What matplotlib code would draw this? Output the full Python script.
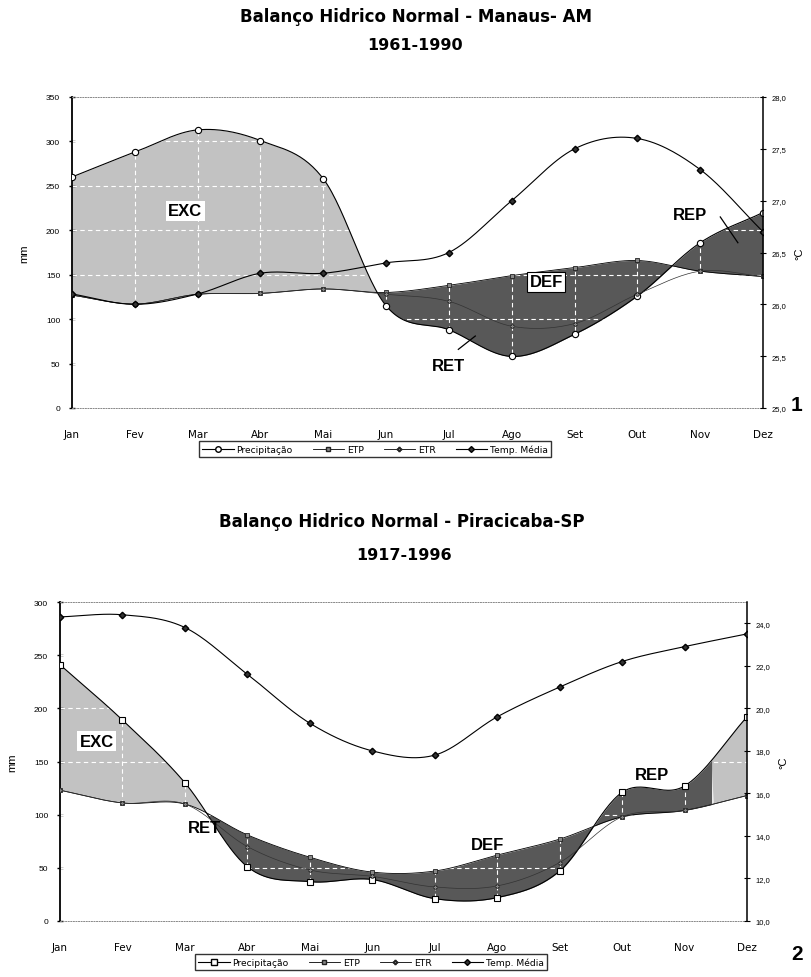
import numpy as np
import matplotlib
matplotlib.use('Agg')
import matplotlib.pyplot as plt
from matplotlib.lines import Line2D

plt.rcParams['font.family'] = ['Liberation Sans', 'DejaVu Sans']

months = ['Jan', 'Fev', 'Mar', 'Abr', 'Mai', 'Jun', 'Jul', 'Ago', 'Set', 'Out', 'Nov', 'Dez']

# Manaus - AM (1961-1990)
man_prec = [260, 288, 313, 301, 258, 115, 88, 58, 83, 126, 186, 220]
man_etp = [127, 117, 128, 129, 134, 130, 138, 149, 158, 166, 154, 148]
man_etr = [127, 117, 128, 129, 134, 128, 120, 92, 95, 128, 154, 148]
man_temp = [26.1, 26.0, 26.1, 26.3, 26.3, 26.4, 26.5, 27.0, 27.5, 27.6, 27.3, 26.7]
man_rep = (9.0, 11.0)

# Piracicaba - SP (1917-1996)
pir_prec = [241, 189, 130, 51, 37, 39, 21, 22, 47, 121, 127, 192]
pir_etp = [123, 111, 110, 81, 60, 46, 47, 62, 77, 98, 104, 118]
pir_etr = [123, 111, 110, 70, 48, 42, 32, 33, 55, 98, 104, 118]
pir_temp = [24.3, 24.4, 23.8, 21.6, 19.3, 18.0, 17.8, 19.6, 21.0, 22.2, 22.9, 23.5]
pir_rep = (8.0, 10.45)

LIGHT = '#c2c2c2'
DARK = '#585858'
WIDE = ['DejaVu Sans']


def smooth(y, n=30):
    y = np.asarray(y, float)
    yp = np.concatenate([[2 * y[0] - y[1]], y, [2 * y[-1] - y[-2]]])
    xs, ys = [], []
    t = np.linspace(0, 1, n, endpoint=False)
    for i in range(len(y) - 1):
        p0, p1, p2, p3 = yp[i:i + 4]
        ys.append(0.5 * ((2 * p1) + (-p0 + p2) * t + (2 * p0 - 5 * p1 + 4 * p2 - p3) * t ** 2
                         + (-p0 + 3 * p1 - 3 * p2 + p3) * t ** 3))
        xs.append(i + t)
    xs.append([len(y) - 1])
    ys.append([y[-1]])
    return np.concatenate(xs), np.concatenate(ys)


def fmt_c(v):
    return ('%.1f' % v).replace('.', ',')


def draw(ax, prec, etp, etr, temp, ymax, tlim, tticks, rep, prec_marker):
    x = np.arange(12)
    xd, pd = smooth(prec)
    _, ed = smooth(etp)
    _, rd = smooth(etr)
    in_rep = (xd >= rep[0]) & (xd <= rep[1])
    ax.fill_between(xd, pd, ed, where=(pd >= ed) & ~in_rep, interpolate=True,
                    color=LIGHT, lw=0, zorder=1)
    ax.fill_between(xd, pd, ed, where=(pd >= ed) & in_rep, interpolate=True,
                    color=DARK, lw=0, zorder=1)
    ax.fill_between(xd, pd, ed, where=(pd < ed), interpolate=True,
                    color=DARK, lw=0, zorder=1)
    for yv in range(50, ymax, 50):
        ax.axhline(yv, color='white', ls=(0, (4, 3)), lw=0.8, zorder=2)
    for xv in range(1, 11):
        ax.axvline(xv, color='white', ls=(0, (4, 3)), lw=0.8, zorder=2)

    ax.plot(xd, pd, color='black', lw=0.8, zorder=3)
    ax.plot(xd, ed, color='black', lw=0.6, zorder=3)
    ax.plot(xd, rd, color='#333333', lw=0.5, zorder=3)
    ax.plot(x, prec, ls='none', marker=prec_marker, ms=4.5, mfc='white', mec='black', mew=0.8, zorder=4)
    ax.plot(x, etp, ls='none', marker='s', ms=3.2, mfc='#888888', mec='#222222', mew=0.6, zorder=4)
    ax.plot(x, etr, ls='none', marker='P', ms=3.2, mfc='#888888', mec='#222222', mew=0.4, zorder=4)

    ax.set_xlim(0, 11)
    ax.set_ylim(0, ymax)
    ax.set_yticks(range(0, ymax + 1, 50))
    ax.set_xticks(x)
    ax.set_xticklabels(months, fontsize=7.5, family=WIDE)
    ax.tick_params(axis='x', length=0, pad=15)
    ax.tick_params(axis='y', direction='inout', length=5, width=1, labelsize=6, pad=6)
    ax.set_ylabel('mm', fontsize=8, labelpad=12)
    for s in ('top', 'bottom'):
        ax.spines[s].set_linestyle(':')
        ax.spines[s].set_color('#888888')
        ax.spines[s].set_linewidth(0.7)
    ax.spines['left'].set_linewidth(1.3)
    ax.spines['right'].set_visible(False)

    ax2 = ax.twinx()
    xt, td = smooth(temp)
    ax2.plot(xt, td, color='black', lw=0.8, zorder=3)
    ax2.plot(x, temp, ls='none', marker='D', ms=3.3, mfc='#333333', mec='black', zorder=4)
    ax2.set_ylim(*tlim)
    ax2.set_yticks(tticks)
    ax2.set_yticklabels([fmt_c(v) for v in tticks])
    ax2.tick_params(axis='y', direction='inout', length=4, width=0.8, labelsize=5.5, pad=4)
    for s in ('top', 'bottom', 'left'):
        ax2.spines[s].set_visible(False)
    ax2.spines['right'].set_linewidth(1.1)
    ax2.set_ylabel('°C', fontsize=8, rotation=90, labelpad=6)
    return ax2


def legend(fig, prec_marker, cx, cy):
    handles = [
        Line2D([], [], color='black', lw=0.8, marker=prec_marker, ms=4, mfc='white', mec='black'),
        Line2D([], [], color='black', lw=0.6, marker='s', ms=3, mfc='#888888', mec='#222222'),
        Line2D([], [], color='black', lw=0.6, marker='P', ms=3, mfc='#888888', mec='#222222'),
        Line2D([], [], color='black', lw=0.8, marker='D', ms=3, mfc='#333333', mec='black'),
    ]
    labels = ['Precipitação', 'ETP', 'ETR', 'Temp. Média']
    fig.legend(handles, labels, loc='center', bbox_to_anchor=(cx, cy), ncol=4,
               prop={'family': WIDE, 'size': 6.6},
               frameon=True, fancybox=False, edgecolor='black', borderpad=0.35,
               columnspacing=2.2, handlelength=3.4, handletextpad=0.3)


W, H = 812, 978
fig = plt.figure(figsize=(W / 100, H / 100), dpi=100)
lab = dict(fontsize=12, fontweight='bold', ha='center', va='center', zorder=6)

# ---- Chart 1: Manaus
ax1 = fig.add_axes([72 / W, 1 - 409 / H, (763 - 72) / W, (409 - 98) / H])
t1 = np.arange(25.0, 28.01, 0.5)
draw(ax1, man_prec, man_etp, man_etr, man_temp, 350, (25, 28), t1, man_rep, 'o')
box_plain = dict(boxstyle='square,pad=0.15', fc='white', ec='none')
box_edge = dict(boxstyle='square,pad=0.15', fc='white', ec='black', lw=0.8)
ax1.text(1.8, 222, 'EXC', bbox=box_plain, **lab)
ax1.text(7.55, 142, 'DEF', bbox=box_edge, **lab)
ax1.text(6.0, 48, 'RET', **lab)
ax1.plot([6.15, 6.42], [66, 81], color='black', lw=0.9, zorder=6)
ax1.text(9.84, 218, 'REP', **lab)
ax1.plot([10.32, 10.6], [215, 186], color='black', lw=0.9, zorder=6)

fig.text(416 / W, 1 - 17 / H, 'Balanço Hidrico Normal - Manaus- AM', fontsize=12,
         fontweight='bold', ha='center', va='center', family=WIDE)
fig.text(415 / W, 1 - 45 / H, '1961-1990', fontsize=11.5, fontweight='bold', ha='center',
         va='center', family=WIDE)
legend(fig, 'o', 375 / W, 1 - 450 / H)
fig.text(797 / W, 1 - 406 / H, '1', fontsize=15, fontweight='bold', ha='center', va='center')

# ---- Chart 2: Piracicaba
ax3 = fig.add_axes([60 / W, 1 - 922 / H, (747 - 60) / W, (922 - 603) / H])
t2 = np.arange(10.0, 24.01, 2.0)
draw(ax3, pir_prec, pir_etp, pir_etr, pir_temp, 300, (10, 25), t2, pir_rep, 's')
ax3.text(0.59, 169, 'EXC', bbox=box_plain, **lab)
ax3.text(2.32, 88, 'RET', **lab)
ax3.text(6.84, 72, 'DEF', **lab)
ax3.text(9.48, 138, 'REP', **lab)

fig.text(402 / W, 1 - 522 / H, 'Balanço Hidrico Normal - Piracicaba-SP', fontsize=12,
         fontweight='bold', ha='center', va='center', family=WIDE)
fig.text(404 / W, 1 - 555 / H, '1917-1996', fontsize=11.5, fontweight='bold', ha='center',
         va='center', family=WIDE)
legend(fig, 's', 371 / W, 1 - 963 / H)
fig.text(797 / W, 1 - 955 / H, '2', fontsize=15, fontweight='bold', ha='center', va='center')

fig.savefig('out.png', dpi=100)
